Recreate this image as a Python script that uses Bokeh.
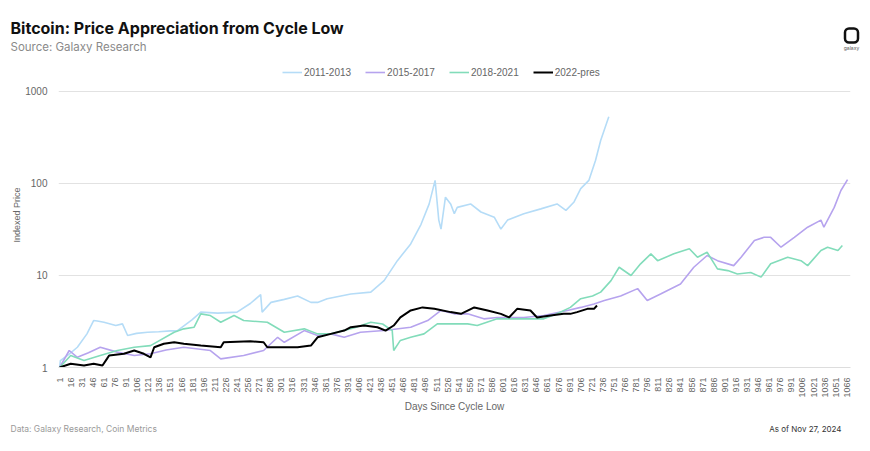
from bokeh.plotting import figure
from bokeh.layouts import column, row
from bokeh.models import (Range1d, FixedTicker, PrintfTickFormatter, Label, Legend, LegendItem)
from bokeh.embed import file_html
from bokeh.resources import INLINE
import math

# ---- data ----
days_2011 = [1, 2, 14, 25, 38, 47, 52, 61, 77, 86, 93, 105, 120, 135, 151, 160, 180, 192, 215, 241, 259, 273, 275,
             287, 305, 323, 341, 350, 363, 395, 422, 440, 458, 476, 490, 501, 509, 514, 517, 523, 530, 535, 539,
             557, 571, 589, 598, 607, 629, 652, 674, 686, 697, 706, 717, 726, 733, 744]
vals_2011 = [1.0, 1.19, 1.4, 1.66, 2.32, 3.24, 3.2, 3.1, 2.86, 2.98, 2.23, 2.35, 2.42, 2.45, 2.5, 2.5, 3.3, 4.0, 3.9,
             4.0, 4.96, 6.2, 4.0, 5.1, 5.5, 6.0, 5.1, 5.1, 5.6, 6.3, 6.6, 8.8, 14.5, 22, 36, 60, 108, 40, 32, 71, 60,
             47, 55, 60, 49, 43, 32, 40, 47, 53, 60, 51, 63, 88, 108, 178, 293, 530]

days_2015 = [1, 14, 25, 40, 56, 79, 102, 124, 145, 169, 205, 219, 250, 277, 296, 305, 332, 350, 368, 386, 408, 440,
             476, 499, 517, 535, 553, 575, 593, 629, 656, 688, 706, 724, 738, 760, 783, 796, 814, 841, 859, 877, 891,
             913, 923, 941, 954, 963, 977, 995, 1013, 1031, 1035, 1049, 1058, 1067]
vals_2015 = [1.0, 1.53, 1.29, 1.45, 1.66, 1.47, 1.35, 1.41, 1.55, 1.66, 1.53, 1.24, 1.35, 1.53, 2.13, 1.88, 2.52,
             2.23, 2.32, 2.13, 2.42, 2.52, 2.74, 3.24, 4.17, 3.83, 3.83, 3.38, 3.5, 3.5, 3.67, 4.17, 4.5, 4.9, 5.35,
             6.0, 7.2, 5.35, 6.3, 8.1, 12.3, 16.5, 14.5, 12.8, 15.8, 24, 26, 26, 20.3, 26, 33.5, 40, 33.5, 55, 84, 110]

days_2018 = [1, 16, 34, 56, 79, 102, 124, 156, 169, 183, 192, 205, 219, 237, 250, 282, 305, 332, 350, 368, 400,
             422, 438, 451, 453, 462, 476, 494, 512, 530, 553, 566, 593, 629, 656, 674, 692, 706, 722, 733, 747,
             758, 774, 787, 801, 810, 832, 853, 864, 877, 891, 905, 918, 936, 950, 963, 986, 1004, 1013, 1031, 1040,
             1054, 1060]
vals_2018 = [1.0, 1.35, 1.19, 1.35, 1.53, 1.66, 1.73, 2.42, 2.63, 2.74, 3.83, 3.67, 3.1, 3.67, 3.24, 3.1, 2.42,
             2.63, 2.32, 2.32, 2.7, 3.1, 2.97, 2.52, 1.53, 1.97, 2.13, 2.32, 2.98, 2.98, 2.98, 2.86, 3.38, 3.38,
             3.38, 3.83, 4.5, 5.6, 6.0, 6.6, 8.8, 12.3, 10, 13.4, 17.2, 14.5, 17.2, 19.5, 15.8, 17.9, 11.8, 11.3,
             10.4, 10.8, 9.6, 13.4, 15.8, 14.5, 12.8, 18.7, 20.3, 18.7, 21.2]

days_2022 = [1, 16, 34, 47, 59, 65, 68, 88, 102, 115, 124, 129, 142, 156, 169, 192, 219, 223, 259, 277, 282, 305,
             323, 341, 350, 368, 386, 395, 413, 431, 442, 453, 462, 476, 492, 508, 530, 544, 562, 580, 598, 609,
             620, 638, 647, 665, 683, 692, 701, 715, 724, 728]
vals_2022 = [1.0, 1.1, 1.05, 1.1, 1.05, 1.24, 1.35, 1.41, 1.53, 1.41, 1.29, 1.66, 1.81, 1.88, 1.81, 1.73, 1.66,
             1.88, 1.93, 1.88, 1.66, 1.66, 1.66, 1.73, 2.13, 2.32, 2.52, 2.74, 2.86, 2.74, 2.52, 2.86, 3.5, 4.17,
             4.5, 4.34, 4.0, 3.83, 4.5, 4.17, 3.83, 3.5, 4.34, 4.17, 3.5, 3.67, 3.83, 3.83, 4.0, 4.34, 4.34, 4.72]

series_names = ["2011-2013", "2015-2017", "2018-2021", "2022-pres"]
series_colors = ["#b5dcf7", "#b6a3ee", "#82dcba", "#000000"]
series_widths = [1.6, 1.6, 1.6, 2.0]

x_ticks = [1, 16, 31, 46, 61, 76, 91, 106, 121, 136, 151, 166, 181, 196, 211, 226, 241, 256, 271, 286, 301, 316,
           331, 346, 361, 376, 391, 406, 421, 436, 451, 466, 481, 496, 511, 526, 541, 556, 571, 586, 601, 616,
           631, 646, 661, 676, 691, 706, 721, 736, 751, 766, 781, 796, 811, 826, 841, 856, 871, 886, 901, 916,
           931, 946, 961, 976, 991, 1006, 1021, 1036, 1051, 1066]
y_ticks = [1, 10, 100, 1000]

FONT = "Liberation Sans"
GRAY = "#666666"
W = 870
HEAD_H, MAIN_H, FOOT_H = 60, 355, 36


def blank(h):
    f = figure(width=W, height=h, output_backend="svg", toolbar_location=None,
               x_range=Range1d(0, W), y_range=Range1d(0, h),
               x_axis_location=None, y_axis_location=None, min_border=0)
    f.outline_line_color = None
    f.grid.visible = False
    f.background_fill_color = "white"
    f.border_fill_color = "white"
    return f


# ---------- header ----------
head = blank(HEAD_H)
head.add_layout(Label(x=10, y=HEAD_H - 27, text="Bitcoin: Price Appreciation from Cycle Low",
                      text_font="Inter", text_font_style="bold", text_font_size="16px", text_color="#111111",
                      text_baseline="middle"))
head.add_layout(Label(x=10, y=HEAD_H - 46, text="Source: Galaxy Research",
                      text_font="Inter", text_font_size="11.5px", text_color="#8a8a8a", text_baseline="middle"))
head.add_layout(Label(x=851, y=HEAD_H - 35, text="\u2003", text_font_size="5px",
                      border_line_color="#111111", border_line_width=2.5, border_radius=4, padding=4,
                      text_align="center", text_baseline="middle"))
head.add_layout(Label(x=851, y=HEAD_H - 47, text="galaxy",
                      text_font="Inter", text_font_size="5px", text_color="#555555", text_align="center",
                      text_baseline="middle"))

# ---------- main chart ----------
# frame extends above the 1000 gridline so the legend sits inside it
p = figure(width=W, height=MAIN_H, output_backend="svg", toolbar_location=None,
           y_axis_type="log", x_range=Range1d(-0.5, 1071), y_range=Range1d(1, 2066),
           min_border_left=58, min_border_right=20, min_border_top=2, min_border_bottom=48)
p.outline_line_color = None
p.background_fill_color = "white"
p.border_fill_color = "white"

all_days = [days_2011, days_2015, days_2018, days_2022]
all_vals = [vals_2011, vals_2015, vals_2018, vals_2022]
renderers = []
for d, v, c, w in zip(all_days, all_vals, series_colors, series_widths):
    renderers.append(p.line(d, v, line_color=c, line_width=w))

legend = Legend(items=[LegendItem(label=n, renderers=[r]) for n, r in zip(series_names, renderers)],
                orientation="horizontal", location=(224, 289))
legend.glyph_width = 20
legend.glyph_height = 12
legend.label_height = 12
legend.label_standoff = 2
legend.spacing = 14
legend.padding = 0
legend.margin = 0
legend.border_line_color = None
legend.background_fill_alpha = 0
legend.label_text_font = FONT
legend.label_text_font_size = "10px"
legend.label_text_color = GRAY
p.add_layout(legend, "center")

p.xaxis.ticker = FixedTicker(ticks=x_ticks)
p.xaxis.major_label_orientation = math.pi / 2
p.xaxis.major_label_text_font = FONT
p.xaxis.major_label_text_font_size = "9px"
p.xaxis.major_label_text_color = GRAY
p.xaxis.axis_line_color = "#dddddd"
p.xaxis.major_tick_line_color = None
p.xaxis.minor_tick_line_color = None
p.xaxis.major_label_standoff = 4
p.xaxis.axis_label = "Days Since Cycle Low"
p.xaxis.axis_label_text_font = FONT
p.xaxis.axis_label_text_font_style = "normal"
p.xaxis.axis_label_text_font_size = "10px"
p.xaxis.axis_label_text_color = GRAY
p.xaxis.axis_label_standoff = 0

p.yaxis.ticker = FixedTicker(ticks=y_ticks, minor_ticks=[])
p.yaxis.formatter = PrintfTickFormatter(format="%d")
p.yaxis.major_label_text_font = FONT
p.yaxis.major_label_text_font_size = "10px"
p.yaxis.major_label_text_color = GRAY
p.yaxis.axis_line_color = None
p.yaxis.major_tick_line_color = None
p.yaxis.minor_tick_line_color = None
p.yaxis.major_label_standoff = 5
p.yaxis.axis_label = "Indexed Price"
p.yaxis.axis_label_text_font = FONT
p.yaxis.axis_label_text_font_style = "normal"
p.yaxis.axis_label_text_font_size = "9px"
p.yaxis.axis_label_text_color = GRAY
p.yaxis.axis_label_standoff = 0

p.xgrid.grid_line_color = None
p.ygrid.grid_line_color = "#e2e2e2"
p.ygrid.ticker = FixedTicker(ticks=y_ticks, minor_ticks=[])

# ---------- footer ----------
foot = blank(FOOT_H)
foot.add_layout(Label(x=10, y=FOOT_H - 13, text="Data: Galaxy Research, Coin Metrics",
                      text_font="Inter", text_font_size="8.5px", text_color="#9a9a9a", text_baseline="middle"))
foot.add_layout(Label(x=841, y=FOOT_H - 13, text="As of Nov 27, 2024",
                      text_font="Inter", text_font_size="8px", text_color="#333333", text_baseline="middle",
                      text_align="right"))

layout = column(row(head), p, row(foot), spacing=0)
open("out.html", "w").write(file_html(layout, INLINE))
